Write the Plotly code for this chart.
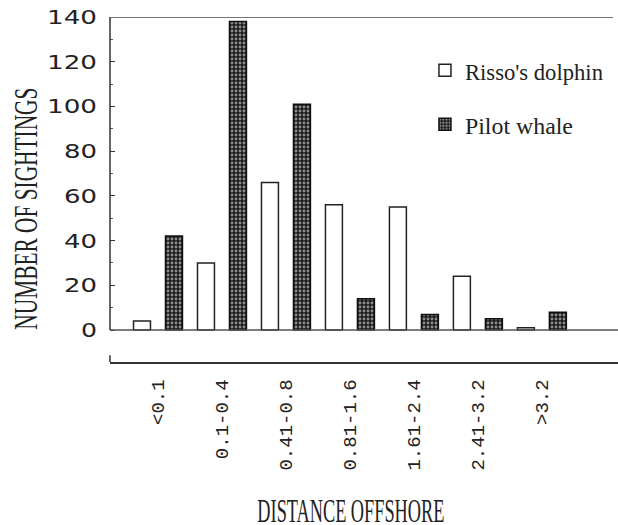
import plotly.graph_objects as go

categories = ["<0.1", "0.1-0.4", "0.41-0.8", "0.81-1.6", "1.61-2.4", "2.41-3.2", ">3.2"]
risso = [4, 30, 66, 56, 55, 24, 1]
pilot = [42, 138, 101, 14, 7, 5, 8]
y_ticks = [0, 20, 40, 60, 80, 100, 120, 140]
y_minor = [10, 30, 50, 70, 90, 110, 130]

x_idx = list(range(len(categories)))

TITLE_FONT = "Liberation Serif, DejaVu Serif, serif"

fig = go.Figure()
fig.add_trace(go.Bar(
    x=x_idx, y=risso, name="Risso's dolphin",
    marker=dict(color="white", line=dict(color="#222", width=1.5)),
    legendgroup="a",
))
fig.add_trace(go.Bar(
    x=x_idx, y=pilot, name="Pilot whale",
    marker=dict(color="#1a1a1a", line=dict(color="#111", width=1.5),
                pattern=dict(shape=".", fgcolor="white", bgcolor="#1a1a1a",
                             size=4, solidity=0.42)),
    legendgroup="b",
))

YMIN = -14.3
XMIN, XMAX = -0.75, 7.19

shapes = [
    dict(type="line", xref="paper", yref="y", x0=0, x1=0, y0=0, y1=140,
         line=dict(color="#333", width=1.5)),
    dict(type="line", xref="paper", yref="y", x0=0, x1=0.99, y0=140, y1=140,
         line=dict(color="#444", width=1.5)),
    dict(type="line", xref="paper", yref="y", x0=0, x1=1, y0=0, y1=0,
         line=dict(color="#555", width=1.5)),
    dict(type="line", xref="paper", yref="y", x0=0, x1=0, y0=YMIN, y1=YMIN + 3,
         line=dict(color="#333", width=1.5)),
]

fig.update_layout(
    width=618, height=525,
    margin=dict(l=110, r=0, t=17, b=163, autoexpand=False),
    paper_bgcolor="white", plot_bgcolor="white",
    barmode="group", bargap=0.0, bargroupgap=0.47,
    showlegend=True,
    legend=dict(x=0.62, y=0.91, xanchor="left", yanchor="top",
                bgcolor="rgba(0,0,0,0)", tracegroupgap=20,
                traceorder="grouped",
                font=dict(family=TITLE_FONT, size=24, color="#222")),
    xaxis=dict(
        range=[XMIN, XMAX], tickmode="array", tickvals=x_idx, ticktext=categories,
        tickangle=-90, showline=True, linecolor="#333", linewidth=1.5,
        showgrid=False, zeroline=False, ticks="", ticklabelstandoff=8,
        automargin=False,
        tickfont=dict(family="Liberation Mono, Courier New, monospace", size=19, color="#222"),
    ),
    yaxis=dict(
        range=[YMIN, 140], tickmode="array", tickvals=y_ticks,
        showline=False, showgrid=False, zeroline=False,
        ticks="inside", ticklen=5, tickcolor="#333", tickwidth=1,
        minor=dict(tickmode="array", tickvals=y_minor,
                   ticks="inside", ticklen=3, tickcolor="#555", showgrid=False),
        ticklabelstandoff=12, automargin=False,
        tickfont=dict(family="DejaVu Sans, sans-serif", size=20, color="#222"),
    ),
    shapes=shapes,
    annotations=[
        dict(text="NUMBER OF SIGHTINGS", xref="paper", yref="paper",
             x=-0.167, y=0.443, xanchor="center", yanchor="middle",
             textangle=-90, showarrow=False,
             font=dict(family=TITLE_FONT, size=34, color="#222")),
        dict(text="DISTANCE OFFSHORE", xref="paper", yref="paper",
             x=0.474, y=-0.43, xanchor="center", yanchor="middle",
             showarrow=False,
             font=dict(family=TITLE_FONT, size=34, color="#222")),
    ],
)

post = """
document.body.style.margin = '0px';
var gd = document.getElementById('{plot_id}');
function fixText() {
  var L = {"NUMBER OF SIGHTINGS": 242, "DISTANCE OFFSHORE": 187,
           "Risso's dolphin": 138, "Pilot whale": 108};
  gd.querySelectorAll('text').forEach(function (t) {
    var s = t.textContent;
    if (L[s]) {
      t.setAttribute('textLength', L[s]);
      t.setAttribute('lengthAdjust', 'spacingAndGlyphs');
    }
  });
  gd.querySelectorAll('.ytick text').forEach(function (t) {
    var n = t.textContent.length;
    t.setAttribute('textLength', 17 * n - 1);
    t.setAttribute('lengthAdjust', 'spacingAndGlyphs');
  });
}
fixText();
gd.on('plotly_afterplot', fixText);
"""

fig.write_html("out.html", post_script=post, config={"displayModeBar": False})
